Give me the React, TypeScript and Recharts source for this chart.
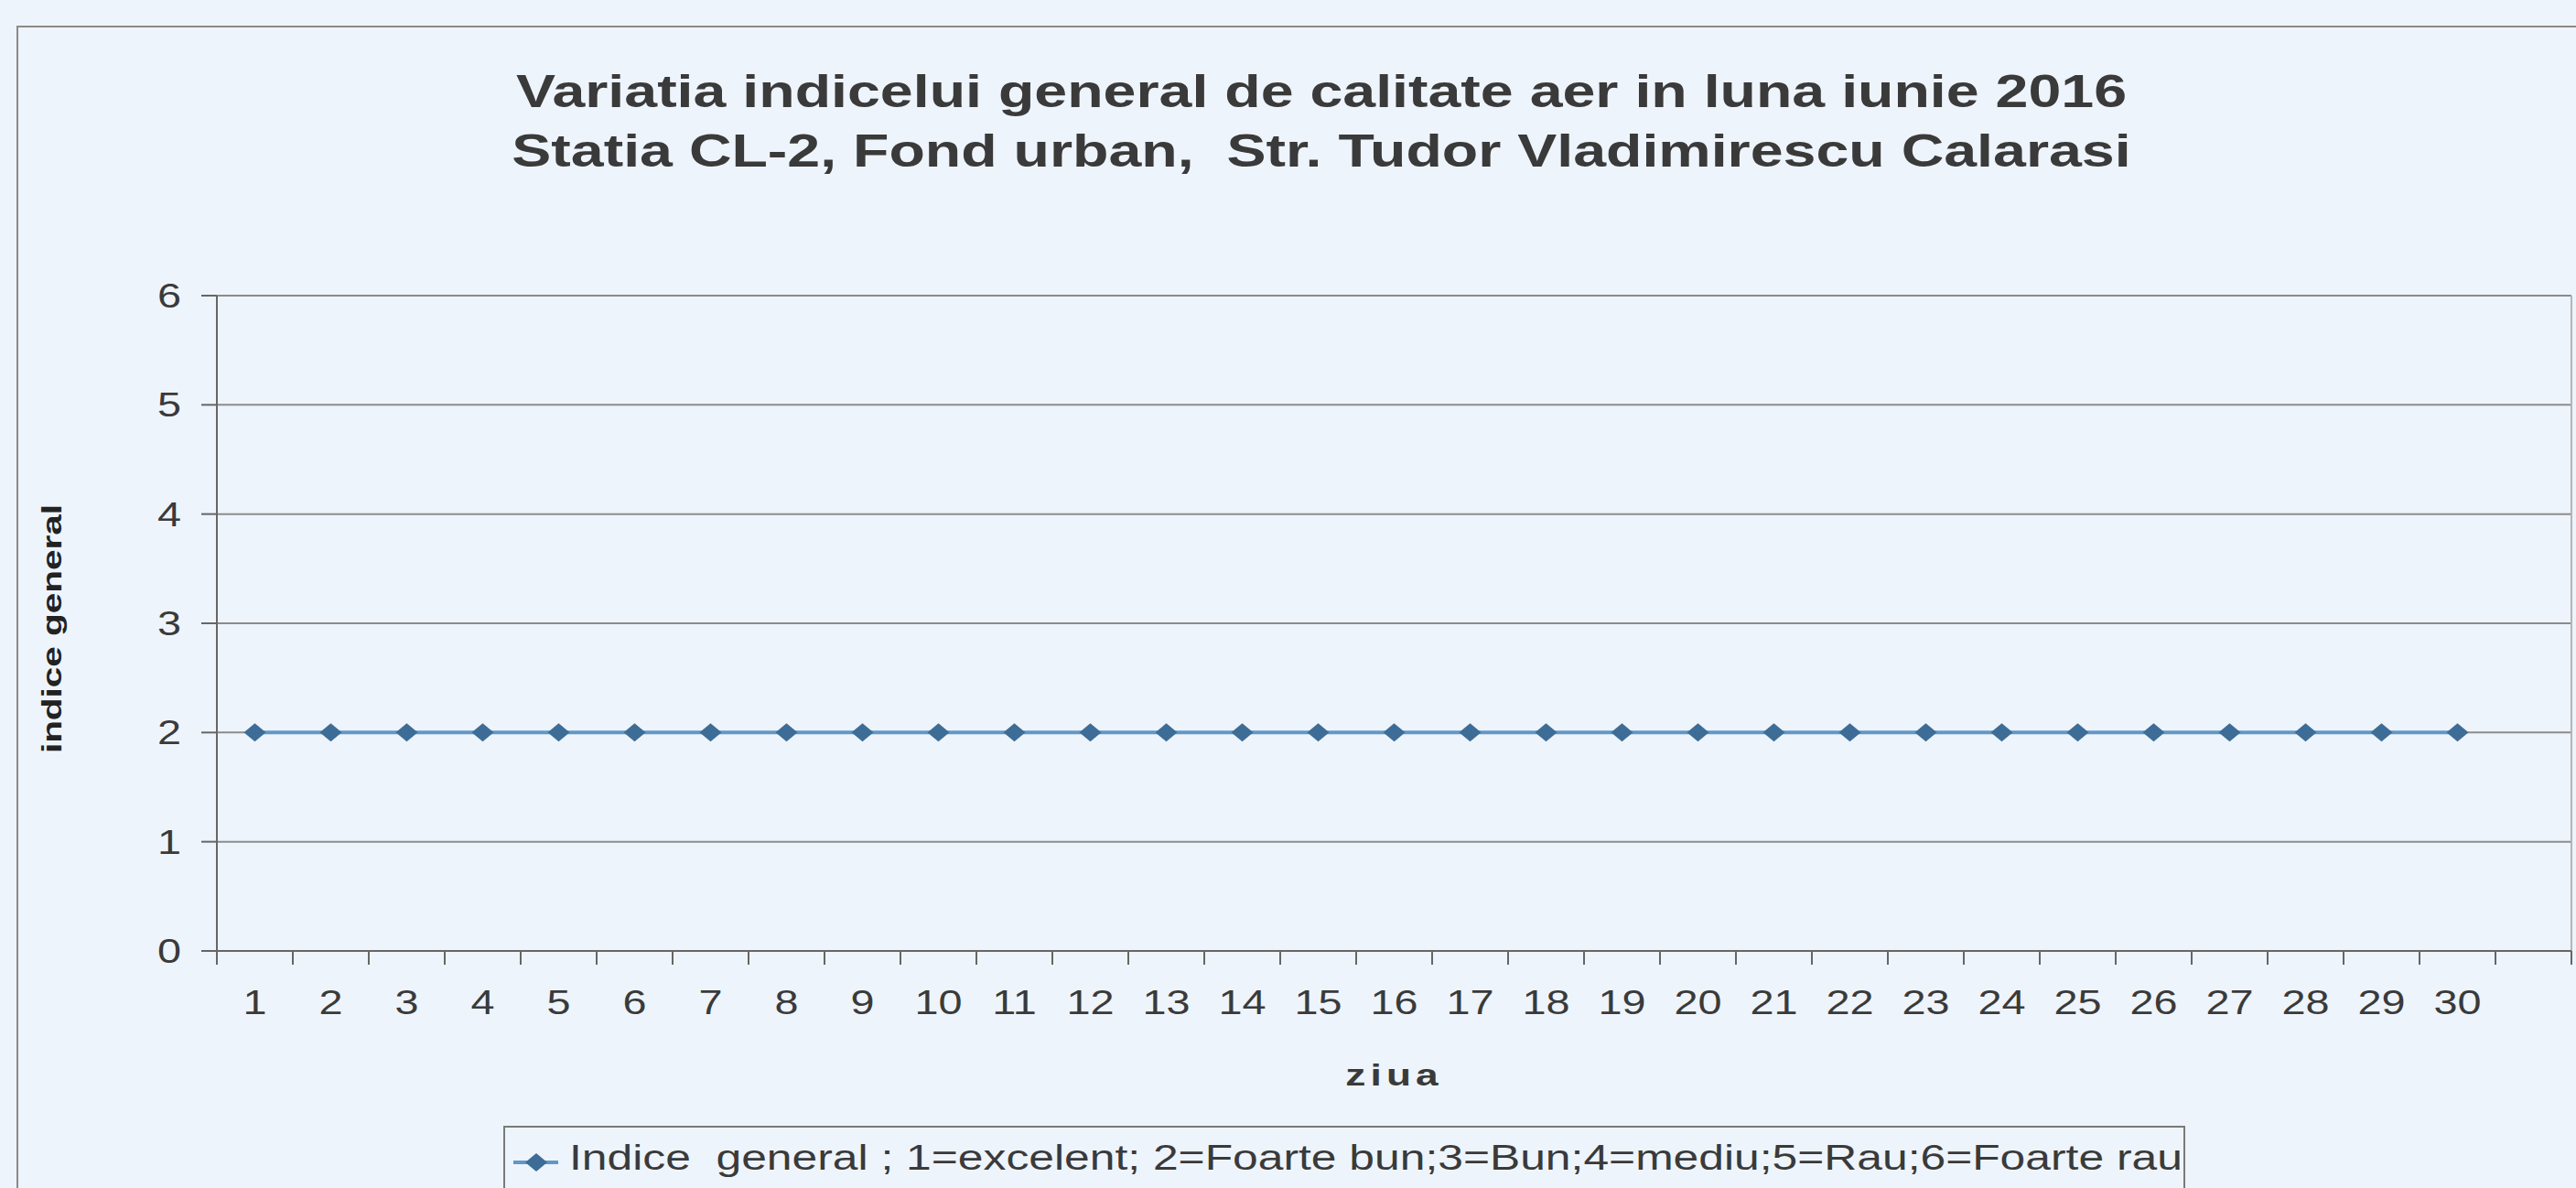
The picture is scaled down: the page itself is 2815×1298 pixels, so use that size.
import React from "react";
import {
  LineChart,
  Line,
  XAxis,
  YAxis,
  CartesianGrid,
  ReferenceLine,
} from "recharts";

// ziua (day of June 2016)
const days = [
  1, 2, 3, 4, 5, 6, 7, 8, 9, 10, 11, 12, 13, 14, 15, 16, 17, 18, 19, 20, 21,
  22, 23, 24, 25, 26, 27, 28, 29, 30,
];
// indice general per day
const indiceValues = [
  2, 2, 2, 2, 2, 2, 2, 2, 2, 2, 2, 2, 2, 2, 2, 2, 2, 2, 2, 2, 2, 2, 2, 2, 2,
  2, 2, 2, 2, 2,
];
const yTicks = [0, 1, 2, 3, 4, 5, 6];

const title1 = "Variatia indicelui general de calitate aer in luna iunie 2016";
const title2 = "Statia CL-2, Fond urban,  Str. Tudor Vladimirescu Calarasi";
const xTitle = "ziua";
const yTitle = "indice general";
const legendText =
  "Indice  general ; 1=excelent; 2=Foarte bun;3=Bun;4=mediu;5=Rau;6=Foarte rau";

const data = days.map((d, i) => ({ day: d, indice: indiceValues[i] }));
// category boundaries (Excel puts tick marks between days, one spare slot at the end)
const dayEdges = [...days.map((d) => d - 0.5), 30.5, 31.5];

const FONT = '"Liberation Sans", Arial, sans-serif';
const TEXT = "#3a3a3a";
const AXIS = "#666";
const GRID = "#8c8c8c";
const LINE = "#6198c6";
const MARK = "#3d6d97";
const BG = "#eef4fb";
const SX = 1.3;

const NoLabel = () => <g />;

const XTick = ({ x, y, payload }: any) => (
  <g transform={`translate(${x},${y}) scale(${SX},1)`}>
    <text x={0} y={0} dy="0.36em" textAnchor="middle" fontSize={36} fill={TEXT} fontFamily={FONT}>
      {payload.value}
    </text>
  </g>
);

const YTick = ({ x, y, payload }: any) => (
  <g transform={`translate(${x},${y}) scale(${SX},1)`}>
    <text x={0} y={0} dy="0.36em" textAnchor="end" fontSize={36} fill={TEXT} fontFamily={FONT}>
      {payload.value}
    </text>
  </g>
);

const Diamond = (props: any) => {
  const { cx, cy, index } = props;
  if (cx == null || cy == null) return null;
  return (
    <polygon
      key={index}
      points={`${cx - 12},${cy} ${cx},${cy - 10} ${cx + 12},${cy} ${cx},${cy + 10}`}
      fill={MARK}
    />
  );
};

export default function App() {
  return (
    <div
      style={{
        position: "absolute",
        left: 0,
        top: 0,
        width: 2815,
        height: 1298,
        overflow: "hidden",
        background: BG,
        fontFamily: FONT,
      }}
    >
      {/* chart frame */}
      <div
        style={{
          position: "absolute",
          left: 18,
          top: 28,
          width: 2900,
          height: 1400,
          borderTop: "2px solid #8a8a8a",
          borderLeft: "2px solid #8a8a8a",
        }}
      />
      {/* title */}
      <div
        style={{
          position: "absolute",
          left: 1444,
          top: 68,
          transform: `translateX(-50%) scaleX(1.29)`,
          whiteSpace: "pre",
          textAlign: "center",
          fontWeight: "bold",
          fontSize: 50,
          lineHeight: "65px",
          color: TEXT,
        }}
      >
        <div>{title1}</div>
        <div>{title2}</div>
      </div>

      <div style={{ position: "absolute", left: 0, top: 0 }}>
        <LineChart
          width={2815}
          height={1298}
          data={data}
          margin={{ top: 323, right: 5, bottom: 164, left: 137 }}
        >
          <CartesianGrid xAxisId="d" horizontal vertical={false} stroke={GRID} strokeWidth={2} />
          <XAxis
            xAxisId="b"
            type="number"
            dataKey="day"
            domain={[0.5, 31.5]}
            ticks={dayEdges}
            interval={0}
            tick={<NoLabel />}
            tickSize={15}
            height={15}
            axisLine={{ stroke: AXIS, strokeWidth: 2 }}
            tickLine={{ stroke: AXIS, strokeWidth: 2 }}
          />
          <XAxis
            xAxisId="d"
            type="number"
            dataKey="day"
            domain={[0.5, 31.5]}
            ticks={days}
            interval={0}
            tick={<XTick />}
            tickSize={0}
            tickMargin={41}
            height={80}
            axisLine={false}
            tickLine={false}
            label={{
              value: xTitle,
              content: ({ viewBox }: any) => (
                <g transform={`translate(${viewBox.x + viewBox.width / 2},${viewBox.y + 120}) scale(${SX},1)`}>
                  <text x={0} y={0} dy="0.36em" textAnchor="middle" fontSize={34} fontWeight="bold" letterSpacing={4} fill={TEXT} fontFamily={FONT}>
                    {xTitle}
                  </text>
                </g>
              ),
            }}
          />
          <YAxis
            type="number"
            domain={[0, 6]}
            ticks={yTicks}
            interval={0}
            width={100}
            tickSize={17}
            tickMargin={22}
            tick={<YTick />}
            axisLine={{ stroke: AXIS, strokeWidth: 2 }}
            tickLine={{ stroke: AXIS, strokeWidth: 2 }}
            label={{
              value: yTitle,
              content: ({ viewBox }: any) => (
                <g transform={`translate(${viewBox.x - 81},${viewBox.y + viewBox.height / 2 + 6}) rotate(-90) scale(1.35,1)`}>
                  <text x={0} y={0} dy="0.36em" textAnchor="middle" fontSize={30} fontWeight="bold" fill="#222" fontFamily={FONT}>
                    {yTitle}
                  </text>
                </g>
              ),
            }}
          />
          <ReferenceLine xAxisId="d" x={31.5} stroke="#b5b5b5" strokeWidth={2} />
          <Line
            xAxisId="d"
            type="linear"
            dataKey="indice"
            stroke={LINE}
            strokeWidth={4}
            dot={<Diamond />}
            activeDot={false}
            isAnimationActive={false}
          />
        </LineChart>
      </div>

      {/* legend */}
      <div
        style={{
          position: "absolute",
          left: 550,
          top: 1230,
          width: 1838,
          height: 120,
          border: "2px solid #7a7a7a",
          boxSizing: "border-box",
        }}
      >
        <svg width={70} height={40} style={{ position: "absolute", left: 6, top: 18 }}>
          <line x1={3} y1={20} x2={52} y2={20} stroke={LINE} strokeWidth={4} />
          <polygon points="16,20 28,10 40,20 28,30" fill={MARK} />
        </svg>
        <div
          style={{
            position: "absolute",
            left: 70,
            top: 10,
            transform: "scaleX(1.31)",
            transformOrigin: "0 0",
            whiteSpace: "pre",
            fontSize: 38,
            lineHeight: "46px",
            color: TEXT,
          }}
        >
          {legendText}
        </div>
      </div>
    </div>
  );
}
